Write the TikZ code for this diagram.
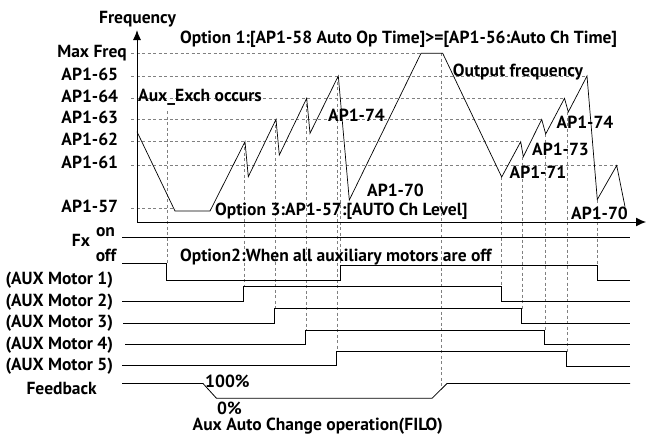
\documentclass[tikz,border=0pt]{standalone}
\usepackage{fontspec}
\setmainfont{PT Sans}
\usetikzlibrary{arrows.meta}

\begin{document}
\begin{tikzpicture}[x=1pt,y=-1pt,
    guide/.style={gray,line width=0.5pt,dash pattern=on 3pt off 2.5pt},
    sig/.style={line width=0.8pt},
    lbl/.style={font=\bfseries\fontsize{17.5}{19}\selectfont,inner sep=0pt}]
  \useasboundingbox (0,0) rectangle (646,437);
  %levels
  \foreach \y/\t/\e/\r/\n in {53.3/Max Freq/421/127/maxf,76/AP1-65/587/118.3/lv65,
      98.3/AP1-64/565/118.3/lv64,119.4/AP1-63/542/118.3/lv63,141.7/AP1-62/521/118.3/lv62,
      164.8/AP1-61/620/118.3/lv61,208.5/AP1-57/175/118.3/lv57}{
    \draw[guide](131,\y)--(\e,\y);
    \node[lbl,anchor=base east](\n) at (\r,\y+4){\t};
  }
  %change points
  \foreach \x/\a/\b in {167/111/263.3,244.4/141.7/286.7,275.5/119.4/308.5,306.5/98.3/330,
      337/76/351.7,340.7/150/280,441.5/53.3/390,501.7/177/286.7,522.3/157/309,
      545.3/134/330,567.5/112/351.7,597.3/200/265.7}{
    \draw[guide](\x,\a)--(\x,\b);
  }
  %axes
  \draw[line width=1pt,-{Latex[length=10pt,width=8pt]}](137,222)--(137,30);
  \draw[line width=1pt,-{Latex[length=10pt,width=9pt]}](137,222)--(646,222);
  \node[lbl,anchor=base](freqlbl) at (137.5,23.5){Frequency};
  %output frequency
  \draw[line width=0.7pt](137,131.7)--(175,211)--(210,211)--(245,141.7)--(248.3,176.7)
    --(276,119.4)--(279.3,155)--(306.7,98.3)--(310,133.3)--(338.3,76)--(349.3,200)
    --(421,53.3)--(442.7,53.3)--(501.7,177)--(520.7,141.7)--(523.3,156.7)--(541.7,119.4)
    --(545.7,134)--(564.5,98.3)--(568.3,112)--(587,76)--(597.3,199.5)--(616.7,165.5)
    --(625,206.7);
  \node[lbl,anchor=base west](opt1) at (180,43.3){Option 1:[AP1-58 Auto Op Time]>=[AP1-56:Auto Ch Time]};
  \node[lbl,anchor=base west](exch) at (138,101.7){Aux\_Exch occurs};
  \node[lbl,anchor=base west](outf) at (452.7,76){Output frequency};
  \node[lbl,anchor=base west](opt3) at (215,215){Option 3:AP1-57:[AUTO Ch Level]};
  \node[lbl,anchor=base west](p74a) at (328,121.5){AP1-74};
  \node[lbl,anchor=base west](p70a) at (367,196.5){AP1-70};
  \node[lbl,anchor=base west](p71) at (509.5,178){AP1-71};
  \node[lbl,anchor=base west](p73) at (532,155){AP1-73};
  \node[lbl,anchor=base west](p74b) at (556.5,128.3){AP1-74};
  \node[lbl,anchor=base west](p70b) at (571,219){AP1-70};
  %Fx and motors
  \draw[sig](122,237.5)--(630,237.5);
  \draw[sig](122,263.3)--(166.7,263.3)--(166.7,280)--(340.7,280)--(340.7,265.7)
    --(597.3,265.7)--(597.3,280)--(630,280);
  \draw[sig](122,301)--(243.3,301)--(243.3,286.7)--(501.7,286.7)--(501.7,301)--(630,301);
  \draw[sig](123,323.3)--(274.5,323.3)--(274.5,308.5)--(521.7,308.5)--(521.7,323.3)--(630,323.3);
  \draw[sig](125,344)--(305,344)--(305,330)--(544.5,330)--(544.5,344)--(630,344);
  \draw[sig](122,365.7)--(336.5,365.7)--(336.5,351.7)--(566.7,351.7)--(566.7,366)--(630,366);
  \draw[sig](122,383.5)--(203,383.5)--(216.5,398.3)--(432,398.3)--(447,383.5)--(630,383.5);
  \node[lbl,anchor=base](fx) at (81,246.7){Fx};
  \node[lbl,anchor=base](fxon) at (105.5,236.7){on};
  \node[lbl,anchor=base](fxoff) at (106,261.5){off};
  \node[lbl,anchor=base west](opt2) at (180,261){Option2:When all auxiliary motors are off};
  \node[lbl,anchor=base east](m1) at (113.3,284.5){(AUX Motor 1)};
  \node[lbl,anchor=base east](m2) at (113.3,306){(AUX Motor 2)};
  \node[lbl,anchor=base east](m3) at (113.3,327.5){(AUX Motor 3)};
  \node[lbl,anchor=base east](m4) at (113.3,349){(AUX Motor 4)};
  \node[lbl,anchor=base east](m5) at (113.3,370.5){(AUX Motor 5)};
  \node[lbl,anchor=base](fb) at (61.7,394.5){Feedback};
  \node[lbl,anchor=base west](hi) at (205,387){100\%};
  \node[lbl,anchor=base west](lo) at (217,414){0\%};
  \node[lbl,anchor=base west](filo) at (192.5,430){Aux Auto Change operation(FILO)};
\end{tikzpicture}
\end{document}
